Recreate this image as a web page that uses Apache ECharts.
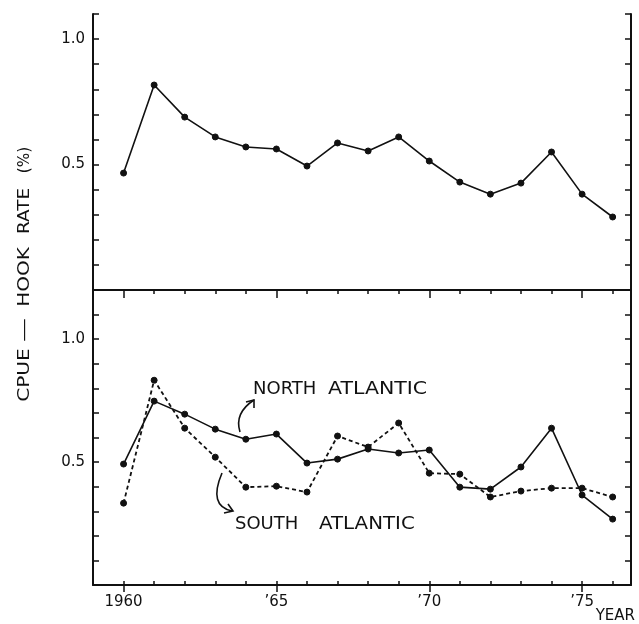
<!DOCTYPE html>
<html>
<head>
<meta charset="utf-8">
<script src="https://cdn.jsdelivr.net/npm/echarts@6/dist/echarts.min.js"></script>
<style>
  html, body { margin: 0; padding: 0; background: #fff; }
  #chart { width: 639px; height: 624px; }
</style>
</head>
<body>
<div id="chart"></div>
<script>
// ---- data ----
const years = [1960, 1961, 1962, 1963, 1964, 1965, 1966, 1967, 1968, 1969, 1970, 1971, 1972, 1973, 1974, 1975, 1976];
const hookRateAll = [0.466, 0.817, 0.689, 0.610, 0.570, 0.562, 0.494, 0.586, 0.554, 0.610, 0.514, 0.430, 0.382, 0.426, 0.550, 0.382, 0.291];
const northAtlantic = [0.492, 0.748, 0.695, 0.634, 0.593, 0.614, 0.496, 0.512, 0.553, 0.537, 0.549, 0.398, 0.390, 0.480, 0.638, 0.366, 0.268];
const southAtlantic = [0.333, 0.833, 0.638, 0.520, 0.398, 0.402, 0.378, 0.606, 0.561, 0.659, 0.455, 0.451, 0.358, 0.382, 0.394, 0.394, 0.358];
const xMajorTicks = [1960, 1965, 1970, 1975];
const xTickLabels = ['1960', '\u201965', '\u201970', '\u201975'];
const yMajorTicks = [0.5, 1.0];
const yTickLabels = ['0.5', '1.0'];

const INK = '#111';
const FONT = 'DejaVu Sans';

const pairs = (vals) => years.map((y, i) => [y, vals[i]]);

const lineAx = { show: true, lineStyle: { color: INK, width: 2 } };
const noLabel = { show: false };
const noSplit = { show: false };

function xAxes(grid, isBottomPanel) {
  const base = { gridIndex: grid, type: 'value', min: 1959, max: 1976.6, splitLine: noSplit };
  if (!isBottomPanel) {
    return [
      Object.assign({}, base, { position: 'bottom', axisLine: lineAx, axisTick: { show: false }, axisLabel: noLabel }),
      Object.assign({}, base, { position: 'top', axisLine: lineAx, axisTick: { show: false }, axisLabel: noLabel })
    ];
  }
  return [
    Object.assign({}, base, { position: 'bottom', interval: 1, axisLine: lineAx,
      axisTick: { show: true, inside: true, length: 4, customValues: years, lineStyle: { color: INK, width: 1.5 } },
      axisLabel: noLabel }),
    Object.assign({}, base, { position: 'bottom', axisLine: { show: false },
      axisTick: { show: true, inside: false, length: 7, customValues: xMajorTicks, lineStyle: { color: INK, width: 1.5 } },
      axisLabel: { show: true, customValues: xMajorTicks, margin: 10, color: INK, fontFamily: FONT, fontSize: 15,
        formatter: (v) => { const i = xMajorTicks.indexOf(Math.round(v)); return i >= 0 ? xTickLabels[i] : ''; } } }),
    Object.assign({}, base, { position: 'top', interval: 1, axisLine: lineAx,
      axisTick: { show: true, inside: true, length: 4, customValues: years, lineStyle: { color: INK, width: 1.5 } },
      axisLabel: noLabel }),
    Object.assign({}, base, { position: 'top', axisLine: { show: false },
      axisTick: { show: true, inside: true, length: 8, customValues: xMajorTicks, lineStyle: { color: INK, width: 1.5 } },
      axisLabel: noLabel })
  ];
}

function yAxes(grid, maxV) {
  const base = { gridIndex: grid, type: 'value', min: 0, max: maxV, interval: 0.1, splitLine: noSplit, axisLine: lineAx };
  return [
    Object.assign({}, base, { position: 'left',
      axisTick: { show: true, inside: true, length: 6, lineStyle: { color: INK, width: 1.5 } },
      axisLabel: { show: true, customValues: yMajorTicks, margin: 8, color: INK, fontFamily: FONT, fontSize: 15,
        formatter: (v) => { const i = yMajorTicks.findIndex(t => Math.abs(t - v) < 1e-6); return i >= 0 ? yTickLabels[i] : ''; } } }),
    Object.assign({}, base, { position: 'right',
      axisTick: { show: true, inside: true, length: 6, lineStyle: { color: INK, width: 1.5 } },
      axisLabel: noLabel })
  ];
}

const chart = echarts.init(document.getElementById('chart'), null, { renderer: 'canvas' });

const symbolStyle = { color: INK, borderColor: INK, borderWidth: 1 };

function rotText(text, y, sx) {
  return { type: 'text', x: 25, y: y, rotation: Math.PI / 2, scaleX: sx, scaleY: 1,
    style: { text: text, fill: INK, font: '16px "' + FONT + '"', textAlign: 'center', textVerticalAlign: 'middle' } };
}
function label(text, x, y, sx) {
  return { type: 'text', x: x, y: y, scaleX: sx, scaleY: 1,
    style: { text: text, fill: INK, font: '18px "' + FONT + '"', textAlign: 'left', textVerticalAlign: 'middle' } };
}

chart.setOption({
  animation: false,
  backgroundColor: '#fff',
  grid: [
    { left: 93, right: 8, top: 14, height: 276 },
    { left: 93, right: 8, top: 290, height: 295 }
  ],
  xAxis: xAxes(0, false).concat(xAxes(1, true)),
  yAxis: yAxes(0, 1.1).concat(yAxes(1, 1.2)),
  series: [
    { name: 'Atlantic', type: 'line', xAxisIndex: 0, yAxisIndex: 0, data: pairs(hookRateAll),
      symbol: 'circle', symbolSize: 6, itemStyle: symbolStyle, lineStyle: { color: INK, width: 1.6 } },
    { name: 'North Atlantic', type: 'line', xAxisIndex: 2, yAxisIndex: 2, data: pairs(northAtlantic),
      symbol: 'circle', symbolSize: 6, itemStyle: symbolStyle, lineStyle: { color: INK, width: 1.6 } },
    { name: 'South Atlantic', type: 'line', xAxisIndex: 2, yAxisIndex: 2, data: pairs(southAtlantic),
      symbol: 'circle', symbolSize: 6, itemStyle: symbolStyle, lineStyle: { color: INK, width: 1.8, type: [4, 3] } }
  ],
  graphic: [
    rotText('CPUE', 375, 1.25),
    rotText('\u2014', 330, 1.5),
    rotText('HOOK', 277, 1.25),
    rotText('RATE', 211, 1.15),
    rotText('(%)', 160, 0.95),
    label('NORTH', 253, 389, 1.0),
    label('ATLANTIC', 328, 389, 1.14),
    label('SOUTH', 235, 524, 1.0),
    label('ATLANTIC', 319, 524, 1.1),
    { type: 'text', x: 635, y: 616,
      style: { text: 'YEAR', fill: INK, font: '15px "' + FONT + '"', textAlign: 'right', textVerticalAlign: 'middle' } },
    { type: 'bezierCurve', shape: { x1: 240, y1: 432, cpx1: 234, cpy1: 413, x2: 254, y2: 400 },
      style: { stroke: INK, lineWidth: 1.6, fill: null } },
    { type: 'polyline', shape: { points: [[246, 402], [254, 400], [254, 408]] },
      style: { stroke: INK, lineWidth: 1.6, fill: null } },
    { type: 'bezierCurve', shape: { x1: 222, y1: 473, cpx1: 208, cpy1: 506, x2: 232, y2: 511 },
      style: { stroke: INK, lineWidth: 1.6, fill: null } },
    { type: 'polyline', shape: { points: [[228, 504], [233, 511], [224, 513]] },
      style: { stroke: INK, lineWidth: 1.6, fill: null } }
  ]
});
</script>
</body>
</html>
